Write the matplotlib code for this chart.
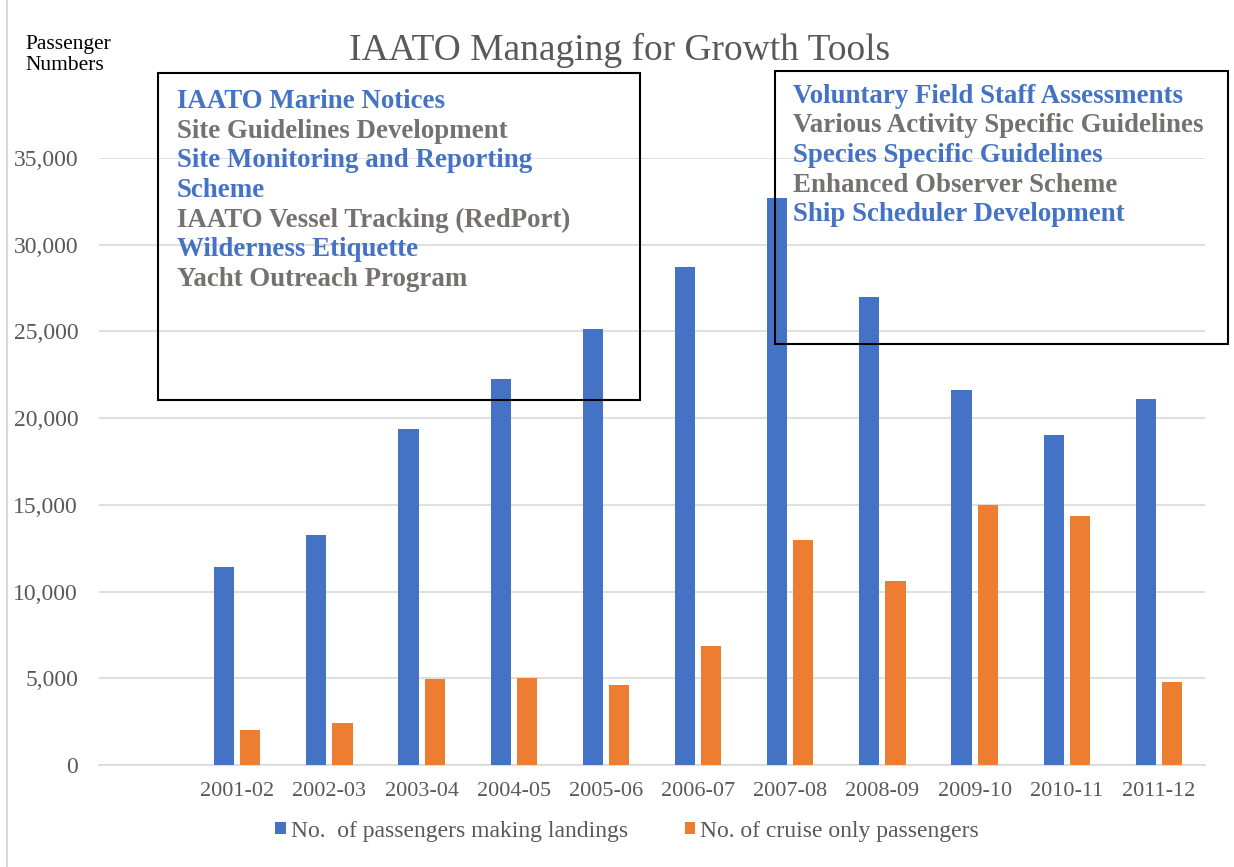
import matplotlib
matplotlib.use("Agg")
import matplotlib.pyplot as plt
from matplotlib.patches import Rectangle
from matplotlib.lines import Line2D
import numpy as np

plt.rcParams['font.family'] = ['Liberation Serif', 'DejaVu Serif']

seasons = ["", "2001-02", "2002-03", "2003-04", "2004-05", "2005-06", "2006-07",
           "2007-08", "2008-09", "2009-10", "2010-11", "2011-12"]
landings = [np.nan, 11440, 13270, 19390, 22280, 25160, 28700, 32700, 26970, 21600, 19040, 21120]
cruise_only = [np.nan, 2020, 2420, 4940, 5000, 4620, 6880, 12980, 10620, 15000, 14350, 4810]
series_names = ["No.  of passengers making landings", "No. of cruise only passengers"]
yticks = [0, 5000, 10000, 15000, 20000, 25000, 30000, 35000]

left_tools = ["IAATO Marine Notices", "Site Guidelines Development",
              "Site Monitoring and Reporting", "Scheme",
              "IAATO Vessel Tracking (RedPort)", "Wilderness Etiquette",
              "Yacht Outreach Program"]
left_colors = ["blue", "gray", "blue", "blue", "gray", "blue", "gray"]
right_tools = ["Voluntary Field Staff Assessments", "Various Activity Specific Guidelines",
               "Species Specific Guidelines", "Enhanced Observer Scheme",
               "Ship Scheduler Development"]
right_colors = ["blue", "gray", "blue", "gray", "blue"]

BLUE = "#4472C4"
ORANGE = "#ED7D31"
GRAYTXT = "#595959"
TOOLGRAY = "#767171"
GRID = "#D9D9D9"
cmap = {"blue": BLUE, "gray": TOOLGRAY}

W, H = 1234, 867
fig = plt.figure(figsize=(W / 100, H / 100), dpi=100)
ax = fig.add_axes([99 / W, 1 - 765 / H, (1205 - 99) / W, (765 - 158) / H])

x = np.arange(len(seasons))
bw = 0.22
off = 0.142
ax.bar(x - off, landings, bw, color=BLUE, label=series_names[0], zorder=3)
ax.bar(x + off, cruise_only, bw, color=ORANGE, label=series_names[1], zorder=3)

ax.set_xlim(-0.5, len(seasons) - 0.5)
ax.set_ylim(0, 35000)
ax.set_yticks(yticks)
ax.set_yticklabels([f"{v:,}" for v in yticks])
ax.set_xticks(x)
ax.set_xticklabels(seasons)
ax.tick_params(axis='both', length=0, labelsize=16, labelcolor=GRAYTXT)
ax.tick_params(axis='y', pad=15, labelsize=17)
ax.tick_params(axis='x', pad=12)
ax.yaxis.grid(True, color=GRID, lw=1.2, zorder=0)
ax.set_axisbelow(True)
for s in ['left', 'right', 'top']:
    ax.spines[s].set_visible(False)
ax.spines['bottom'].set_color(GRID)
ax.spines['bottom'].set_linewidth(1.2)

# Title and axis caption
fig.text(620 / W, 1 - 50 / H, "IAATO Managing for Growth Tools", ha='center', va='center',
         fontsize=27, color=GRAYTXT)
fig.text(25 / W, 1 - 55 / H, "Passenger\nNumbers", ha='left', va='center',
         fontsize=15.5, color='black', linespacing=1.2)

# Boxes
fig.patches.append(Rectangle((158 / W, 1 - 400 / H), (640 - 158) / W, (400 - 73) / H,
                             transform=fig.transFigure, fill=False, ec='black', lw=1.5, zorder=5))
fig.patches.append(Rectangle((775 / W, 1 - 344 / H), (1228 - 775) / W, (344 - 71) / H,
                             transform=fig.transFigure, fill=False, ec='black', lw=1.5, zorder=5))

left_y = [101.7, 131.3, 160.7, 190.3, 220.0, 249.7, 279.5]
for t, c, yy in zip(left_tools, left_colors, left_y):
    fig.text(177 / W, 1 - yy / H, t, ha='left', va='center', fontsize=19.4,
             fontweight='bold', color=cmap[c], zorder=6)
right_y = [96.7, 126.0, 155.3, 185.0, 214.5]
for t, c, yy in zip(right_tools, right_colors, right_y):
    fig.text(793 / W, 1 - yy / H, t, ha='left', va='center', fontsize=19.4,
             fontweight='bold', color=cmap[c], zorder=6)

# Legend
fig.legend(loc='center', bbox_to_anchor=(627 / W, 1 - 831 / H), ncol=2, frameon=False,
           fontsize=17, labelcolor=GRAYTXT, handlelength=0.45, handleheight=0.45,
           handletextpad=0.2, columnspacing=2.4)

# left figure border
fig.add_artist(Line2D([7 / W, 7 / W], [0, 1], transform=fig.transFigure, color=GRID, lw=1.5))

fig.savefig("out.png", dpi=100, facecolor='white')
